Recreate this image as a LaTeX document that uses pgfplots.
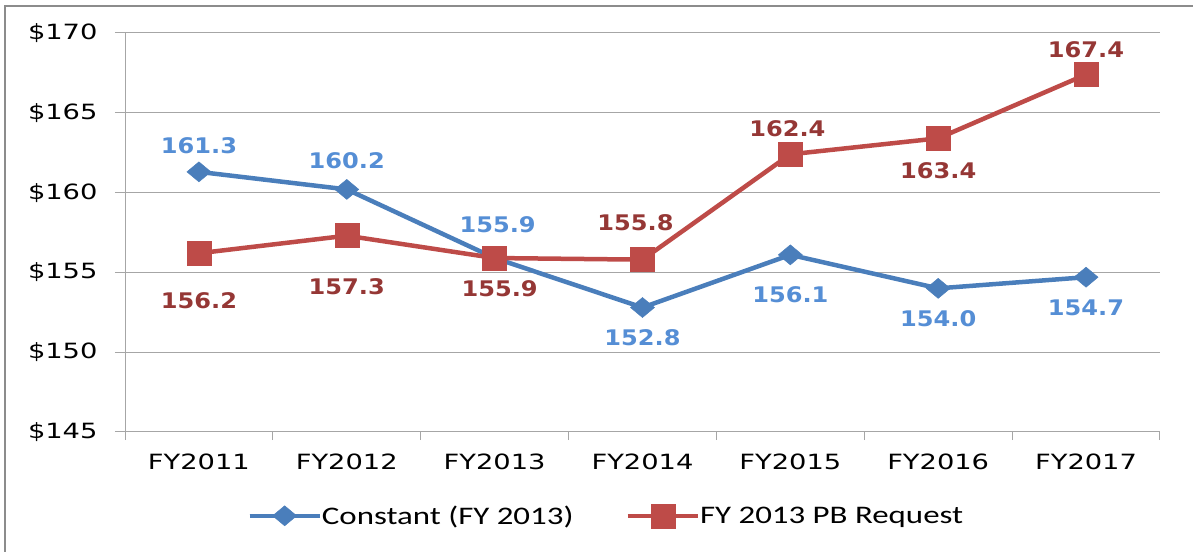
\documentclass[border=0pt]{standalone}
\usepackage{pgfplots}
\pgfplotsset{compat=1.18}
\usepackage{fontspec}
\newfontfamily\tickfont[FakeStretch=1.3]{DejaVu Sans}
\newfontfamily\labfont[FakeStretch=1.12]{DejaVu Sans}
\newfontfamily\legfont[FakeStretch=1.3]{Carlito}
\definecolor{sblue}{HTML}{4A7EBB}
\definecolor{sred}{HTML}{BE4B48}
\definecolor{lblue}{HTML}{558ED5}
\definecolor{lred}{HTML}{953735}
\definecolor{gridc}{HTML}{A6A6A6}
\definecolor{framec}{HTML}{8C8C8C}
% \lab{colour}{x}{y}{yshift}{xshift}
\newcommand\lab[5]{\addplot[lab=#1, every node near coord/.append style={yshift=#4bp, xshift=#5bp}] coordinates {(#2,#3) [#3]};}

\begin{document}
\begin{tikzpicture}
\useasboundingbox (0,0) rectangle (1193bp,552bp);
\draw[framec, line width=2bp] (5bp,0) -- (5bp,546bp) -- (1193bp,546bp);
\begin{axis}[
  at={(125bp,120bp)}, anchor=south west,
  scale only axis, width=1035bp, height=399bp,
  xmin=-0.5, xmax=6.5, ymin=145, ymax=170,
  axis x line*=bottom, axis y line*=left,
  axis line style={gridc, line width=1bp},
  xtick={0,...,6},
  xticklabels={FY2011,FY2012,FY2013,FY2014,FY2015,FY2016,FY2017},
  minor xtick={-0.5,0.5,...,6.5},
  major x tick style={draw=none},
  minor x tick style={gridc, line width=1bp},
  minor tick length=8bp,
  ytick={145,150,...,170},
  yticklabels={\$145,\$150,\$155,\$160,\$165,\$170},
  y tick style={gridc, line width=1bp},
  major tick length=10bp,
  tick align=outside,
  ymajorgrids, grid style={gridc, line width=1bp},
  xticklabel style={font=\tickfont\fontsize{21bp}{25bp}\selectfont, text=black, yshift=-8bp},
  yticklabel style={font=\tickfont\fontsize{21bp}{25bp}\selectfont, text=black, xshift=-14bp},
  clip=false,
  legend style={at={(0.465,-0.21)}, anchor=center, draw=none, font=\legfont\fontsize{25.3bp}{30bp}\selectfont, legend columns=2, /tikz/every even column/.append style={column sep=50bp}, /tikz/every odd column/.append style={column sep=-2bp}},
  legend image code/.code={\draw[#1] (0bp,0bp) -- (70bp,0bp); \draw[#1, mark repeat=2, mark phase=2] plot coordinates {(0bp,0bp) (35bp,0bp) (70bp,0bp)};},
  lab/.style={forget plot, draw=none, mark=none, point meta=explicit symbolic, nodes near coords,
    every node near coord/.append style={font=\labfont\bfseries\fontsize{21.5bp}{25bp}\selectfont, anchor=center, text=#1}},
]
\addplot[sblue, line width=4.5bp, mark=diamond*, mark size=10bp, mark options={xscale=1.6, line width=0.5bp}] table {
x y
0 161.3
1 160.2
2 155.9
3 152.8
4 156.1
5 154.0
6 154.7
};
\addlegendentry{Constant (FY 2013)}
\addplot[sred, line width=4.5bp, mark=square*, mark size=12bp, mark options={line width=0.5bp}] table {
x y
0 156.2
1 157.3
2 155.9
3 155.8
4 162.4
5 163.4
6 167.4
};
\addlegendentry{FY 2013 PB Request}
% data labels
\lab{lblue}{0}{161.3}{26}{0}
\lab{lblue}{1}{160.2}{29}{0}
\lab{lblue}{2}{155.9}{33}{3}
\lab{lblue}{3}{152.8}{-30}{0}
\lab{lblue}{4}{156.1}{-40}{0}
\lab{lblue}{5}{154.0}{-30}{0}
\lab{lblue}{6}{154.7}{-31}{0}
\lab{lred}{0}{156.2}{-47}{0}
\lab{lred}{1}{157.3}{-51}{0}
\lab{lred}{2}{155.9}{-31}{5}
\lab{lred}{3}{155.8}{37}{-7}
\lab{lred}{4}{162.4}{26}{-3}
\lab{lred}{5}{163.4}{-32}{0}
\lab{lred}{6}{167.4}{25}{0}
\end{axis}
\end{tikzpicture}
\end{document}
